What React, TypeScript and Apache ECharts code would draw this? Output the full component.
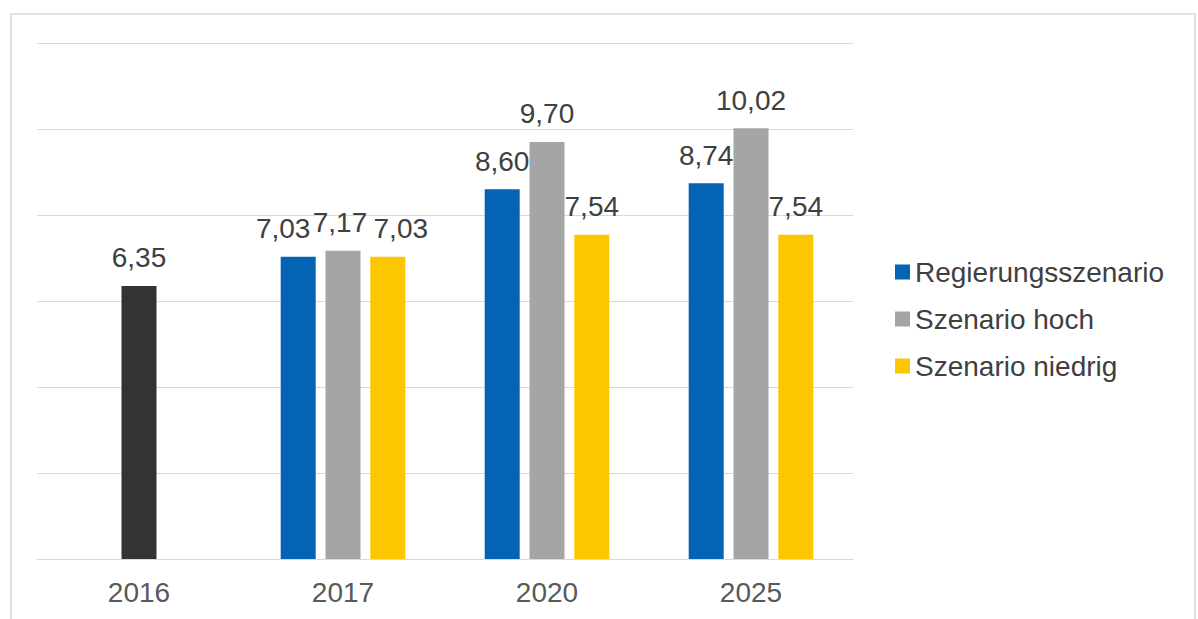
import React, { useEffect, useRef } from "react";
import * as echarts from "echarts";

const categories = ["2016", "2017", "2020", "2025"];
const actual2016 = [6.35, null, null, null];
const regierung = [null, 7.03, 8.6, 8.74];
const hoch = [null, 7.17, 9.7, 10.02];
const niedrig = [null, 7.03, 7.54, 7.54];
const legendNames = ["Regierungsszenario", "Szenario hoch", "Szenario niedrig"];

const fmt = (p: any) => (p.value == null ? "" : Number(p.value).toFixed(2).replace(".", ","));

// nudge crowded 2017 labels apart, as in the original
const withOffset = (arr: (number | null)[], idx: number, dx: number, dy: number) =>
  arr.map((v, i) => (i === idx && v != null ? { value: v, label: { offset: [dx, dy] } } : v));

export default function App() {
  const ref = useRef<HTMLDivElement>(null);
  useEffect(() => {
    const chart = echarts.init(ref.current!, null, { renderer: "svg" });
    const label = {
      show: true,
      position: "top",
      distance: 14,
      formatter: fmt,
      fontFamily: "Liberation Sans",
      fontSize: 28,
      color: "#404040",
    };
    chart.setOption({
      animation: false,
      backgroundColor: "#ffffff",
      textStyle: { fontFamily: "Liberation Sans" },
      graphic: [
        {
          type: "rect",
          shape: { x: 11, y: 14, width: 1184, height: 640 },
          style: { fill: "none", stroke: "#d9d9d9", lineWidth: 1.5 },
          silent: true,
        },
      ],
      grid: { left: 37, right: 345, top: 43, bottom: 60 },
      legend: {
        data: legendNames,
        orient: "vertical",
        left: 895,
        top: 258,
        padding: 0,
        itemWidth: 15,
        itemHeight: 15,
        itemGap: 19,
        icon: "rect",
        textStyle: { fontFamily: "Liberation Sans", fontSize: 28, color: "#404040" },
      },
      xAxis: {
        type: "category",
        data: categories,
        axisLine: { show: true, lineStyle: { color: "#d9d9d9", width: 1 } },
        axisTick: { show: false },
        axisLabel: { fontFamily: "Liberation Sans", fontSize: 28, color: "#595959", margin: 19 },
      },
      yAxis: {
        type: "value",
        min: 0,
        max: 12,
        interval: 2,
        axisLabel: { show: false },
        axisLine: { show: false },
        axisTick: { show: false },
        splitLine: { lineStyle: { color: "#d9d9d9", width: 1 } },
      },
      series: [
        {
          name: "Regierungsszenario",
          type: "bar",
          data: withOffset(regierung, 1, -15, 0),
          barWidth: 35,
          barGap: "28%",
          itemStyle: { color: "#0563b4" },
          label,
        },
        {
          name: "Szenario hoch",
          type: "bar",
          stack: "mid",
          data: withOffset(hoch, 1, -3, 0),
          barWidth: 35,
          barGap: "28%",
          itemStyle: { color: "#a5a5a5" },
          label,
        },
        {
          name: "Ist 2016",
          type: "bar",
          stack: "mid",
          data: actual2016,
          barWidth: 35,
          barGap: "28%",
          itemStyle: { color: "#333333" },
          label,
        },
        {
          name: "Szenario niedrig",
          type: "bar",
          data: withOffset(niedrig, 1, 13, 0),
          barWidth: 35,
          barGap: "28%",
          itemStyle: { color: "#fcc600" },
          label,
        },
      ],
    });
    return () => chart.dispose();
  }, []);
  return (
    <div
      ref={ref}
      style={{ position: "fixed", left: 0, top: 0, width: 1198, height: 619 }}
    />
  );
}
